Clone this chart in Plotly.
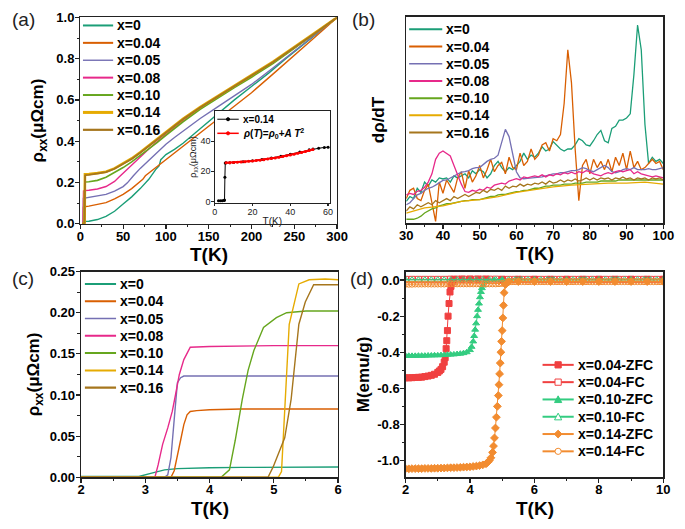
import plotly.graph_objects as go

W, H = 685, 529
FONT = "Liberation Sans, Arial, sans-serif"


def px(x):
    return x / W


def py(y):
    return 1 - y / H


# ---------------- common series info ----------------
series_names = ["x=0", "x=0.04", "x=0.05", "x=0.08", "x=0.10", "x=0.14", "x=0.16"]
series_colors = ["#1b9e77", "#d95f02", "#7570b3", "#e7298a", "#66a61e", "#e6ab02", "#a6761d"]
series_widths = [1.4, 1.4, 1.4, 1.4, 1.6, 2.6, 1.8]

# ---------------- panel (a): rho_xx(T), normalised ----------------
a_T_0 = [2, 2.9, 3.3, 5, 10, 20, 30, 40, 50, 60, 70, 80, 88, 92, 93, 94, 96, 100, 110, 120, 140, 160, 180, 200, 220, 240, 260, 280, 300]
a_R_0 = [0, 0, 0.009, 0.011, 0.012, 0.02, 0.035, 0.06, 0.095, 0.13, 0.17, 0.215, 0.262, 0.28, 0.295, 0.31, 0.318, 0.335, 0.36, 0.39, 0.46, 0.53, 0.6, 0.665, 0.73, 0.8, 0.866, 0.933, 1.0]
a_T_1 = [2, 3.4, 3.6, 5, 10, 20, 30, 40, 50, 60, 70, 73, 76, 80, 90, 100, 110, 120, 140, 160, 180, 200, 225, 250, 275, 300]
a_R_1 = [0, 0, 0.08, 0.082, 0.085, 0.092, 0.102, 0.12, 0.142, 0.17, 0.205, 0.215, 0.232, 0.245, 0.28, 0.312, 0.345, 0.378, 0.44, 0.505, 0.57, 0.635, 0.725, 0.815, 0.907, 1.0]
a_T_2 = [2, 3.35, 3.6, 5, 10, 20, 30, 40, 50, 55, 58, 62, 70, 80, 90, 100, 110, 120, 140, 160, 180, 200, 225, 250, 275, 300]
a_R_2 = [0, 0, 0.123, 0.124, 0.126, 0.132, 0.142, 0.158, 0.18, 0.198, 0.215, 0.232, 0.268, 0.308, 0.348, 0.385, 0.418, 0.45, 0.51, 0.565, 0.62, 0.675, 0.755, 0.835, 0.918, 1.0]
a_T_3 = [2, 3.2, 3.7, 5, 10, 20, 30, 40, 45, 50, 57, 70, 80, 90, 100, 110, 120, 140, 160, 180, 200, 225, 250, 275, 300]
a_R_3 = [0, 0, 0.158, 0.16, 0.162, 0.168, 0.18, 0.205, 0.225, 0.245, 0.272, 0.325, 0.362, 0.398, 0.433, 0.466, 0.498, 0.558, 0.612, 0.665, 0.715, 0.78, 0.853, 0.926, 1.0]
a_T_4 = [2, 4.2, 5.2, 6, 10, 20, 30, 40, 50, 60, 70, 80, 90, 100, 110, 120, 140, 160, 180, 200, 225, 250, 275, 300]
a_R_4 = [0, 0, 0.2, 0.202, 0.203, 0.21, 0.225, 0.248, 0.272, 0.3, 0.33, 0.36, 0.394, 0.428, 0.462, 0.494, 0.554, 0.608, 0.66, 0.71, 0.776, 0.85, 0.925, 1.0]
a_T_5 = [2, 5.05, 5.4, 6, 10, 20, 30, 40, 50, 60, 70, 80, 90, 100, 110, 120, 140, 160, 180, 200, 225, 250, 275, 300]
a_R_5 = [0, 0, 0.24, 0.24, 0.241, 0.245, 0.252, 0.268, 0.29, 0.316, 0.346, 0.378, 0.412, 0.445, 0.478, 0.508, 0.565, 0.618, 0.67, 0.72, 0.785, 0.855, 0.928, 1.0]
a_T_6 = [2, 4.9, 5.6, 6, 10, 20, 30, 40, 50, 60, 70, 80, 90, 100, 110, 120, 140, 160, 180, 200, 225, 250, 275, 300]
a_R_6 = [0, 0, 0.234, 0.235, 0.237, 0.242, 0.25, 0.266, 0.288, 0.314, 0.344, 0.376, 0.41, 0.443, 0.476, 0.506, 0.563, 0.616, 0.668, 0.718, 0.783, 0.853, 0.926, 1.0]
a_T = [a_T_0, a_T_1, a_T_2, a_T_3, a_T_4, a_T_5, a_T_6]
a_R = [a_R_0, a_R_1, a_R_2, a_R_3, a_R_4, a_R_5, a_R_6]

# inset: x=0.14 in micro-ohm cm, and T^2 fit
in_T = [2, 3, 4, 5, 5.2, 5.4, 5.6, 6, 8, 10, 15, 20, 25, 30, 35, 40, 45, 50, 52, 55, 58, 60]
in_R = [0.5, 0.5, 0.5, 0.6, 1.0, 16, 25.5, 25.6, 25.7, 25.9, 26.4, 27.0, 27.8, 28.8, 30.0, 31.3, 32.8, 34.3, 34.8, 35.3, 35.8, 36.0]
fit_T = [6, 8, 10, 12, 14, 16, 18, 20, 22, 24, 26, 28, 30, 32, 34, 36, 38, 40, 42, 44, 46, 48, 50, 52]
fit_R = [25.6, 25.7, 25.8, 26.0, 26.1, 26.3, 26.6, 26.8, 27.1, 27.4, 27.7, 28.1, 28.5, 28.9, 29.3, 29.8, 30.3, 30.8, 31.3, 31.9, 32.5, 33.1, 33.8, 34.4]
inset_names = ["x=0.14", "<i>ρ</i>(<i>T</i>)=<i>ρ</i><sub>0</sub>+<i>A T</i><sup>2</sup>"]
inset_colors = ["#000000", "#ff0000"]

# ---------------- panel (b): d rho / dT (arb. units) ----------------
b_T = list(range(30, 101))
b_D_0 = [10.7, 13, 12, 17, 15, 20, 18, 21, 20, 22,
         21.5, 22, 20, 23, 22, 23, 24, 22, 25.5, 24,
         26, 25, 22, 24, 28, 30, 27, 25, 27, 26,
         28, 30, 34, 31, 33, 32, 34, 37, 35, 36,
         39.6, 38, 36, 35, 36, 36, 38, 41, 40, 38,
         37.5, 40, 43, 45, 40, 39, 46, 47, 50, 50,
         51, 53, 72, 96, 84, 48, 29, 32, 30, 31,
         29]
b_D_1 = [12, 16, 17, 12, 11, 16, 19, 10, 1, 20,
         14.6, 21, 18, 15, 22, 25, 17, 25.5, 20, 23,
         28, 22, 26, 31, 25, 28, 29.5, 24, 32, 27,
         26, 34, 28, 30, 36, 31, 33, 38, 39, 35,
         41, 40, 43, 58, 84, 68, 36, 11, 28, 31,
         24, 31, 27, 30, 26, 31, 25, 32, 28, 34,
         26, 35, 27, 30, 26, 27, 29, 31, 29, 30,
         26]
b_D_2 = [9, 10, 12, 13.8, 14.5, 16, 17, 17.5, 18.5, 19.5,
         20.8, 21, 22, 23, 24, 24.8, 25, 25.5, 26.5, 27,
         27, 28.5, 30, 31, 31.5, 33, 39, 45.5, 42, 33,
         25, 22, 21.6, 21.8, 22, 22, 22.5, 22.5, 23, 23.5,
         24, 24, 24.5, 24.5, 25, 25.5, 25.5, 26, 27, 26.5,
         25.5, 25, 26, 27, 28, 27, 25, 24.5, 25, 26,
         26.5, 26, 27, 26, 26, 26, 26.5, 26, 26, 26.5,
         27]
b_D_3 = [13.8, 14.5, 14, 15.5, 16, 17.5, 20, 24, 31, 34,
         35, 34, 32.6, 28, 23, 19, 15.4, 15, 16, 15.5,
         16.5, 16, 17.5, 17, 18.5, 19, 19.5, 19, 20.5, 21,
         21.6, 21, 22.5, 22, 22.5, 23, 22.5, 23.5, 22.5, 23.5,
         23, 24, 23.5, 24.5, 24, 24.8, 24, 25, 24.5, 25.5,
         25, 24, 23.5, 23, 24, 24.5, 24, 25, 25.5, 25,
         25.5, 26, 24, 25, 24, 23.5, 23, 22.5, 23, 22.5,
         22]
b_D_4 = [2, 2, 2, 2.5, 3.5, 5, 6, 7, 7.5, 8.5,
         9, 9.5, 9.5, 10, 10.5, 10.7, 11, 11, 11.5, 11.5,
         11.5, 12, 12.5, 13, 13, 13.8, 14, 14, 14.5, 15,
         15.4, 15.5, 16, 16, 16.5, 17, 17, 17.5, 18, 18,
         18.5, 18.5, 18.5, 19, 19, 19, 19.5, 19.5, 19.5, 20,
         20, 20, 20, 20.5, 20.5, 20.5, 20.5, 20.5, 21, 21,
         21, 21, 21, 21, 21, 21, 21, 21, 21, 21,
         21]
b_T_5 = [30, 35, 40, 45, 50, 55, 60, 65, 70, 75, 80, 85, 90, 95, 100]
b_D_5 = [5, 7.5, 8.5, 10.7, 11.5, 13, 15, 16.3, 17.7, 18.5, 19, 19.5, 19.5, 20, 19]
b_D_6 = [6, 8, 7, 9, 8, 9, 10, 9, 11, 10,
         11, 12, 11, 13, 12, 13, 14, 13, 14, 15,
         14.6, 16, 15, 16.5, 16, 17, 16, 18, 17, 18,
         17.7, 19, 18, 19, 18.5, 19.5, 19, 20, 19, 20.5,
         19.5, 20, 21, 20, 21, 20.5, 21.5, 20.5, 21, 22,
         21, 22, 21, 22, 21.5, 22, 21, 22, 21.5, 22.5,
         21.5, 22, 21, 22, 21.5, 22, 21, 22, 21.5, 22,
         21]
b_Tlist = [b_T, b_T, b_T, b_T, b_T, b_T_5, b_T]
b_D = [b_D_0, b_D_1, b_D_2, b_D_3, b_D_4, b_D_5, b_D_6]

# ---------------- panel (c): low-T rho_xx ----------------
c_T_0 = [2, 2.5, 2.9, 3.1, 3.3, 3.5, 3.7, 4, 4.5, 5, 5.5, 6]
c_R_0 = [0.001, 0.0008, 0.001, 0.005, 0.009, 0.0105, 0.011, 0.0115, 0.012, 0.012, 0.012, 0.0125]
c_T_1 = [2, 3, 3.4, 3.45, 3.5, 3.55, 3.6, 3.65, 3.7, 3.8, 4, 4.5, 5, 5.5, 6]
c_R_1 = [0, 0, 0, 0.008, 0.025, 0.045, 0.064, 0.076, 0.08, 0.081, 0.082, 0.083, 0.083, 0.083, 0.083]
c_T_2 = [2, 3, 3.3, 3.35, 3.4, 3.45, 3.5, 3.55, 3.6, 4, 4.5, 5, 5.5, 6]
c_R_2 = [0, 0, 0, 0.003, 0.024, 0.07, 0.115, 0.121, 0.123, 0.123, 0.123, 0.123, 0.123, 0.123]
c_T_3 = [2, 3, 3.15, 3.2, 3.27, 3.35, 3.42, 3.47, 3.53, 3.6, 3.7, 4, 5, 6]
c_R_3 = [0, 0, 0, 0.015, 0.04, 0.06, 0.08, 0.1, 0.125, 0.143, 0.158, 0.159, 0.16, 0.16]
c_T_4 = [2, 4, 4.18, 4.31, 4.4, 4.51, 4.6, 4.69, 4.84, 5.04, 5.2, 5.5, 6]
c_R_4 = [0, 0, 0, 0.009, 0.045, 0.095, 0.13, 0.154, 0.182, 0.194, 0.2, 0.202, 0.202]
c_T_5 = [2, 4, 5.07, 5.12, 5.18, 5.24, 5.39, 5.55, 5.8, 6]
c_R_5 = [0, 0, 0, 0.007, 0.09, 0.186, 0.235, 0.24, 0.241, 0.24]
c_T_6 = [2, 4, 4.91, 4.99, 5.17, 5.27, 5.39, 5.49, 5.62, 6]
c_R_6 = [0, 0, 0, 0.0126, 0.048, 0.095, 0.186, 0.213, 0.234, 0.234]
c_T = [c_T_0, c_T_1, c_T_2, c_T_3, c_T_4, c_T_5, c_T_6]
c_R = [c_R_0, c_R_1, c_R_2, c_R_3, c_R_4, c_R_5, c_R_6]

# ---------------- panel (d): magnetisation ZFC / FC ----------------
d_names = ["x=0.04-ZFC", "x=0.04-FC", "x=0.10-ZFC", "x=0.10-FC", "x=0.14-ZFC", "x=0.14-FC"]
d_colors = ["#f04040", "#f04040", "#33cc80", "#33cc80", "#f28c30", "#f28c30"]
d_symbols = ["square", "square-open", "triangle-up", "triangle-up-open", "diamond", "circle-open"]

d_T_04z = [2.0, 2.1, 2.2, 2.3, 2.4, 2.5, 2.6, 2.7, 2.8, 2.9, 3.0, 3.05, 3.1, 3.15, 3.2, 3.23, 3.26, 3.28, 3.3,
           3.32, 3.35, 3.38, 3.41, 3.45, 3.5, 3.75, 4.0, 4.25, 4.5, 5.0, 5.5, 6.0, 6.5, 7.0, 7.5, 8.0, 8.5, 9.0, 9.5, 10.0]
d_M_04z = [-0.542, -0.542, -0.541, -0.540, -0.539, -0.538, -0.535, -0.532, -0.528, -0.522, -0.512, -0.504, -0.495,
           -0.48, -0.455, -0.43, -0.38, -0.336, -0.28, -0.2, -0.13, -0.066, -0.035, -0.01, 0.004, 0.005, 0.005,
           0.005, 0.005, 0.004, 0.004, 0.004, 0.004, 0.004, 0.004, 0.004, 0.004, 0.004, 0.004, 0.004]
d_T_04f = [2.0, 2.2, 2.4, 2.6, 2.8, 3.0, 3.2, 3.4, 3.6, 3.8, 4.0, 4.2, 4.4, 4.6, 4.8, 5.0, 5.2, 5.4, 5.6, 5.8, 6.0,
           6.2, 6.4, 6.6, 6.8, 7.0, 7.2, 7.4, 7.6, 7.8, 8.0, 8.2, 8.4, 8.6, 8.8, 9.0, 9.2, 9.4, 9.6, 9.8, 10.0]
d_M_04f = [0.004, 0.004, 0.004, 0.004, 0.004, 0.004, 0.004, 0.005, 0.005, 0.005, 0.005, 0.005, 0.005, 0.005,
           0.005, 0.004, 0.004, 0.004, 0.004, 0.004, 0.004, 0.004, 0.004, 0.004, 0.004, 0.004, 0.004, 0.004,
           0.004, 0.004, 0.004, 0.004, 0.004, 0.004, 0.004, 0.004, 0.004, 0.004, 0.004, 0.004, 0.004]
d_T_10z = [2.0, 2.1, 2.2, 2.3, 2.4, 2.5, 2.6, 2.7, 2.8, 2.9, 3.0, 3.1, 3.2, 3.3, 3.4, 3.5, 3.6, 3.7, 3.8, 3.9,
           4.0, 4.05, 4.1, 4.13, 4.16, 4.19, 4.22, 4.25, 4.28, 4.31, 4.34, 4.37, 4.4, 4.5, 4.75, 5.0, 5.5, 6.0,
           6.5, 7.0, 7.5, 8.0, 8.5, 9.0, 9.5, 10.0]
d_M_10z = [-0.420, -0.420, -0.420, -0.420, -0.419, -0.419, -0.419, -0.418, -0.418, -0.417, -0.417, -0.416,
           -0.415, -0.414, -0.413, -0.412, -0.410, -0.408, -0.405, -0.400, -0.388, -0.37, -0.34, -0.31, -0.275,
           -0.24, -0.2, -0.165, -0.13, -0.095, -0.066, -0.045, -0.03, -0.01, 0.0, 0.001, 0.002, 0.002, 0.002,
           0.002, 0.002, 0.002, 0.002, 0.002, 0.002, 0.002]
d_T_10f = d_T_04f
d_M_10f = [0.002, 0.002, 0.002, 0.002, 0.002, 0.002, 0.002, 0.002, 0.002, 0.002, 0.002, 0.002, 0.003, 0.003,
           0.003, 0.003, 0.003, 0.003, 0.003, 0.003, 0.003, 0.003, 0.003, 0.003, 0.003, 0.003, 0.003, 0.003,
           0.003, 0.003, 0.003, 0.003, 0.003, 0.003, 0.003, 0.003, 0.003, 0.003, 0.003, 0.003, 0.003]
d_T_14z = [2.0, 2.1, 2.2, 2.3, 2.4, 2.5, 2.6, 2.7, 2.8, 2.9, 3.0, 3.1, 3.2, 3.3, 3.4, 3.5, 3.6, 3.7, 3.8, 3.9,
           4.0, 4.1, 4.2, 4.3, 4.4, 4.5, 4.55, 4.6, 4.65, 4.7, 4.73, 4.76, 4.79, 4.82, 4.85, 4.88, 4.9, 4.92,
           4.94, 4.96, 4.98, 5.0, 5.02, 5.04, 5.06, 5.1, 5.2, 5.5, 6.0, 6.5, 7.0, 7.5, 8.0, 8.5, 9.0, 9.5, 10.0]
d_M_14z = [-1.046, -1.046, -1.045, -1.045, -1.045, -1.045, -1.044, -1.044, -1.044, -1.043, -1.043, -1.042,
           -1.042, -1.041, -1.040, -1.040, -1.039, -1.038, -1.037, -1.036, -1.035, -1.033, -1.031, -1.028,
           -1.024, -1.018, -1.01, -1.0, -0.985, -0.955, -0.92, -0.875, -0.82, -0.76, -0.7, -0.64, -0.58, -0.52,
           -0.46, -0.4, -0.34, -0.28, -0.21, -0.14, -0.07, -0.025, -0.01, -0.008, -0.008, -0.008, -0.008,
           -0.008, -0.008, -0.008, -0.008, -0.008, -0.008]
d_T_14f = [2.0, 2.1, 2.2, 2.3, 2.4, 2.5, 2.6, 2.7, 2.8, 2.9, 3.0, 3.1, 3.2, 3.3, 3.4, 3.5, 3.6, 3.7, 3.8, 3.9,
           4.0, 4.1, 4.2, 4.3, 4.4, 4.5, 4.6, 4.7, 4.8, 4.9, 5.0, 5.1, 5.2, 5.3, 5.4, 5.5, 5.6, 5.7, 5.8, 5.9,
           6.0, 6.1, 6.2, 6.3, 6.4, 6.5, 6.6, 6.7, 6.8, 6.9, 7.0, 7.1, 7.2, 7.3, 7.4, 7.5, 7.6, 7.7, 7.8, 7.9,
           8.0, 8.1, 8.2, 8.3, 8.4, 8.5, 8.6, 8.7, 8.8, 8.9, 9.0, 9.1, 9.2, 9.3, 9.4, 9.5, 9.6, 9.7, 9.8, 9.9, 10.0]
d_M_14f = [-0.023, -0.023, -0.023, -0.022, -0.022, -0.022, -0.022, -0.022, -0.022, -0.022,
           -0.022, -0.022, -0.022, -0.021, -0.021, -0.021, -0.021, -0.021, -0.021, -0.021,
           -0.021, -0.021, -0.021, -0.021, -0.021, -0.021, -0.021, -0.021, -0.021, -0.020,
           -0.019, -0.014, -0.010, -0.009, -0.009, -0.009, -0.009, -0.009, -0.009, -0.009,
           -0.009, -0.009, -0.009, -0.009, -0.009, -0.009, -0.009, -0.009, -0.009, -0.009,
           -0.009, -0.009, -0.009, -0.009, -0.009, -0.009, -0.009, -0.009, -0.009, -0.009,
           -0.009, -0.009, -0.009, -0.009, -0.009, -0.009, -0.009, -0.009, -0.009, -0.009,
           -0.009, -0.009, -0.009, -0.009, -0.009, -0.009, -0.009, -0.009, -0.009, -0.009, -0.009]
d_T = [d_T_04z, d_T_04f, d_T_10z, d_T_10f, d_T_14z, d_T_14f]
d_M = [d_M_04z, d_M_04f, d_M_10z, d_M_10f, d_M_14z, d_M_14f]

# ---------------- figure ----------------
fig = go.Figure()

for i in range(7):
    fig.add_trace(go.Scatter(x=a_T[i], y=a_R[i], mode="lines", name=series_names[i],
                             line=dict(color=series_colors[i], width=series_widths[i]),
                             xaxis="x", yaxis="y", showlegend=False))
fig.add_trace(go.Scatter(x=in_T, y=in_R, mode="lines+markers", name=inset_names[0],
                         line=dict(color="#000000", width=1), marker=dict(size=3, color="#000000"),
                         xaxis="x5", yaxis="y5", showlegend=False))
fig.add_trace(go.Scatter(x=fit_T, y=fit_R, mode="lines+markers", name=inset_names[1],
                         line=dict(color="#ff0000", width=2), marker=dict(size=3, color="#ff0000"),
                         xaxis="x5", yaxis="y5", showlegend=False))
for i in range(7):
    fig.add_trace(go.Scatter(x=b_Tlist[i], y=b_D[i], mode="lines", name=series_names[i],
                             line=dict(color=series_colors[i], width=1.3),
                             xaxis="x2", yaxis="y2", showlegend=False))
for i in range(7):
    fig.add_trace(go.Scatter(x=c_T[i], y=c_R[i], mode="lines", name=series_names[i],
                             line=dict(color=series_colors[i], width=1.4),
                             xaxis="x3", yaxis="y3", showlegend=False))
for i in range(6):
    fig.add_trace(go.Scatter(x=d_T[i], y=d_M[i], mode="lines+markers", name=d_names[i],
                             line=dict(color=d_colors[i], width=1),
                             marker=dict(symbol=d_symbols[i], size=6, color=d_colors[i],
                                         line=dict(color=d_colors[i], width=1)),
                             xaxis="x4", yaxis="y4", showlegend=False))

LC = "#222222"
tickfont = dict(family=FONT, size=13, color="black", weight="bold")


def ax(**kw):
    base = dict(showline=True, linecolor=LC, linewidth=1.3, mirror=True, ticks="outside", ticklen=4,
                tickwidth=1.2, tickcolor=LC, tickfont=tickfont, showgrid=False, zeroline=False)
    base.update(kw)
    return base


def minor(dt, t0=0):
    return dict(ticks="outside", ticklen=2.5, tickwidth=1, tickcolor=LC, dtick=dt, tick0=t0, showgrid=False)


xt_font = dict(family=FONT, size=19, color="black", weight="bold")
yt_font = dict(family=FONT, size=17, color="black", weight="bold")
rho_title = "ρ<sub>xx</sub>(μΩcm)"
XS = -4   # tick labels sit close to the ticks in the reference
YS = -2

layout = dict(
    width=W, height=H, margin=dict(l=0, r=0, t=0, b=0),
    paper_bgcolor="white", plot_bgcolor="white", showlegend=False,
    font=dict(family=FONT, color="black"),
    xaxis=ax(domain=[px(75.3), px(339)], anchor="y", range=[0, 300], tickvals=[0, 50, 100, 150, 200, 250, 300],
             minor=minor(25), ticklabelstandoff=XS),
    yaxis=ax(domain=[py(223), py(10.7)], anchor="x", range=[0, 1.0], tickvals=[0, 0.2, 0.4, 0.6, 0.8, 1.0],
             tickformat=".1f", minor=minor(0.1), ticklabelstandoff=YS,
             title=dict(text=rho_title, font=yt_font, standoff=8)),
    xaxis2=ax(domain=[px(410), px(674)], anchor="y2", range=[30, 100], dtick=10, minor=minor(5),
              ticklabelstandoff=XS),
    yaxis2=ax(domain=[py(222.7), py(10)], anchor="x2", range=[0, 100], ticks="", showticklabels=False,
              title=dict(text="dρ/dT", font=yt_font, standoff=16)),
    xaxis3=ax(domain=[px(76), px(340)], anchor="y3", range=[2, 6], dtick=1, minor=minor(0.5),
              ticklabelstandoff=XS),
    yaxis3=ax(domain=[py(484), py(272.3)], anchor="x3", range=[0, 0.25], dtick=0.05, tickformat=".2f",
              minor=minor(0.025), ticklabelstandoff=YS,
              title=dict(text=rho_title, font=yt_font, standoff=5)),
    xaxis4=ax(domain=[px(409.3), px(674)], anchor="y4", range=[2, 10], dtick=2, minor=minor(1),
              ticklabelstandoff=XS),
    yaxis4=ax(domain=[py(484), py(272.3)], anchor="x4", range=[-1.093, 0.047],
              tickvals=[0, -0.2, -0.4, -0.6, -0.8, -1.0],
              ticktext=["0.0", "-0.2", "-0.4", "-0.6", "-0.8", "-1.0"], minor=minor(0.1),
              ticklabelstandoff=YS, title=dict(text="M(emu/g)", font=yt_font, standoff=3)),
    xaxis5=ax(domain=[px(213.3), px(331.7)], anchor="y5", range=[0, 61], tickvals=[0, 20, 40, 60],
              ticklen=2.5, linewidth=1, tickfont=dict(family=FONT, size=9, color="#222"),
              ticklabelstandoff=-2,
              title=dict(text="T(K)", font=dict(family=FONT, size=10, color="#222"), standoff=1)),
    yaxis5=ax(domain=[py(201.7), py(107)], anchor="x5", range=[-1, 60], tickvals=[0, 20, 40],
              ticklen=2.5, linewidth=1, tickfont=dict(family=FONT, size=9, color="#222"),
              ticklabelstandoff=-1,
              title=dict(text=rho_title, font=dict(family=FONT, size=9, color="#222"), standoff=2)),
)

shapes = []
annotations = []


def legend(names, colors, widths, x0, x1, xt, y0, dy, size, symbols=None):
    for i, (n, c, w) in enumerate(zip(names, colors, widths)):
        y = y0 + i * dy
        shapes.append(dict(type="line", xref="paper", yref="paper", x0=px(x0), x1=px(x1), y0=py(y), y1=py(y),
                           line=dict(color=c, width=w)))
        annotations.append(dict(xref="paper", yref="paper", x=px(xt), y=py(y), text=n, showarrow=False,
                                xanchor="left", yanchor="middle",
                                font=dict(family=FONT, size=size, color="black", weight="bold")))
        if symbols:
            cx = (x0 + x1) / 2
            s = symbols[i]
            r = 3.2
            fill = "white" if s.endswith("open") else c
            if s.startswith("square"):
                shapes.append(dict(type="rect", xref="paper", yref="paper", x0=px(cx - r), x1=px(cx + r),
                                   y0=py(y + r), y1=py(y - r), fillcolor=fill, line=dict(color=c, width=1)))
            elif s.startswith("circle") or s == "dot":
                rr = r if s != "dot" else 1.6
                shapes.append(dict(type="circle", xref="paper", yref="paper", x0=px(cx - rr), x1=px(cx + rr),
                                   y0=py(y + rr), y1=py(y - rr), fillcolor=fill, line=dict(color=c, width=1)))
            elif s.startswith("triangle"):
                path = "M{},{} L{},{} L{},{} Z".format(px(cx), py(y - r - 0.5), px(cx - r - 0.5), py(y + r),
                                                        px(cx + r + 0.5), py(y + r))
                shapes.append(dict(type="path", xref="paper", yref="paper", path=path, fillcolor=fill,
                                   line=dict(color=c, width=1)))
            elif s.startswith("diamond"):
                rd = r + 0.8
                path = "M{},{} L{},{} L{},{} L{},{} Z".format(px(cx), py(y - rd), px(cx + rd), py(y),
                                                               px(cx), py(y + rd), px(cx - rd), py(y))
                shapes.append(dict(type="path", xref="paper", yref="paper", path=path, fillcolor=fill,
                                   line=dict(color=c, width=1)))


legend(series_names, series_colors, [2, 2, 1.4, 2, 2, 3, 2.2], 78, 109, 111, 19, 17.9, 14)
legend(series_names, series_colors, [2, 2, 1.4, 2, 2, 2, 2], 413, 447, 449, 23, 17.7, 14)
legend(series_names, series_colors, [2, 2, 1.4, 2, 2, 2, 2.2], 80, 112, 114, 285, 17.8, 14)
legend(d_names, d_colors, [2] * 6, 550, 582, 584, 368.3, 17.8, 14, symbols=d_symbols)
legend(inset_names, inset_colors, [1, 1.5], 216, 238, 240, 115.5, 14.5, 10, symbols=["dot", "dot"])

# x-axis titles, centred under each panel
for cx, cy in [(207, 255), (542, 254), (208, 516), (542, 516)]:
    annotations.append(dict(xref="paper", yref="paper", x=px(cx), y=py(cy), text="T(K)", showarrow=False,
                            xanchor="center", yanchor="middle", font=xt_font))

for lab, x, y in [("(a)", 3, 13), ("(b)", 352, 13), ("(c)", 3, 279), ("(d)", 350, 279)]:
    annotations.append(dict(xref="paper", yref="paper", x=px(x), y=py(y), text=lab, showarrow=False,
                            xanchor="left", yanchor="middle",
                            font=dict(family=FONT, size=19, color="#222")))

layout["shapes"] = shapes
layout["annotations"] = annotations
fig.update_layout(**layout)

# remove the default page margin so the 685x529 figure fills the window exactly
page_fix = ("document.body.style.margin='0px';document.body.style.padding='0px';"
            "document.documentElement.style.overflow='hidden';")
fig.write_html("out.html", post_script=page_fix,
               config={"displayModeBar": False, "staticPlot": True})
